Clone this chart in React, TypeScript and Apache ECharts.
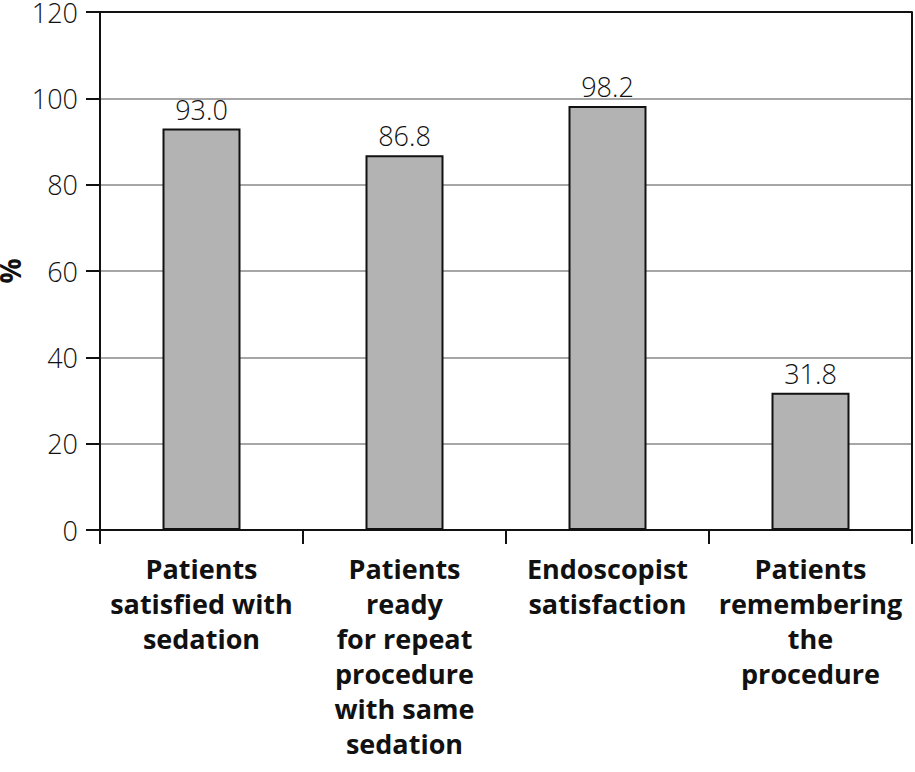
import React, { useEffect, useRef } from "react";
import * as echarts from "echarts";

const categories = [
  "Patients\nsatisfied with\nsedation",
  "Patients\nready\nfor repeat\nprocedure\nwith same\nsedation",
  "Endoscopist\nsatisfaction",
  "Patients\nremembering\nthe\nprocedure",
];
const values = [93.0, 86.8, 98.2, 31.8];
const yTicks = [0, 20, 40, 60, 80, 100, 120];

const FONT = "'Open Sans', 'Noto Sans', sans-serif";

export default function App() {
  const ref = useRef<HTMLDivElement>(null);
  useEffect(() => {
    if (!ref.current) return;
    const chart = echarts.init(ref.current, undefined, { renderer: "svg" });
    const splitColors = yTicks.map((v, i) => (i === yTicks.length - 1 ? "#111" : "#a6a6a6"));
    chart.setOption({
      animation: false,
      backgroundColor: "#fff",
      grid: { left: 100, right: 3, top: 12, bottom: 242, containLabel: false, outerBoundsMode: "none" },
      xAxis: {
        type: "category",
        data: categories,
        axisLine: { show: true, lineStyle: { color: "#111", width: 2 } },
        axisTick: { show: true, length: 14, lineStyle: { color: "#111", width: 2 } },
        axisLabel: {
          margin: 21,
          interval: 0,
          fontFamily: FONT,
          fontWeight: "bold",
          fontSize: 27,
          lineHeight: 35,
          color: "#111",
        },
      },
      yAxis: [
        {
          type: "value",
          min: 0,
          max: 120,
          interval: 20,
          name: "%",
          nameLocation: "middle",
          nameGap: 76,
          nameRotate: 90,
          nameMoveOverlap: false,
          nameTextStyle: { fontFamily: FONT, fontWeight: "bold", fontSize: 28, color: "#111", lineHeight: 28 },
          axisLine: { show: true, lineStyle: { color: "#111", width: 2 } },
          axisTick: { show: true, length: 14, lineStyle: { color: "#111", width: 2 } },
          axisLabel: { margin: 22, fontFamily: FONT, fontWeight: 300, fontSize: 27, lineHeight: 24, color: "#111" },
          splitLine: { show: true, lineStyle: { color: splitColors, width: 2 } },
        },
        {
          type: "value",
          position: "right",
          min: 0,
          max: 120,
          interval: 20,
          axisLine: { show: true, lineStyle: { color: "#111", width: 2 } },
          axisTick: { show: false },
          axisLabel: { show: false },
          splitLine: { show: false },
        },
      ],
      series: [
        {
          type: "bar",
          data: values,
          yAxisIndex: 0,
          barWidth: 78,
          itemStyle: { color: "#b3b3b3", borderColor: "#111", borderWidth: 2 },
          label: {
            show: true,
            position: "top",
            distance: 6,
            fontFamily: FONT,
            fontWeight: 300,
            fontSize: 27,
            color: "#111",
            formatter: (p: any) => Number(p.value).toFixed(1),
          },
        },
      ],
    });
    return () => chart.dispose();
  }, []);
  return (
    <div
      ref={ref}
      style={{ position: "fixed", left: 0, top: 0, width: 915, height: 772 }}
    />
  );
}
